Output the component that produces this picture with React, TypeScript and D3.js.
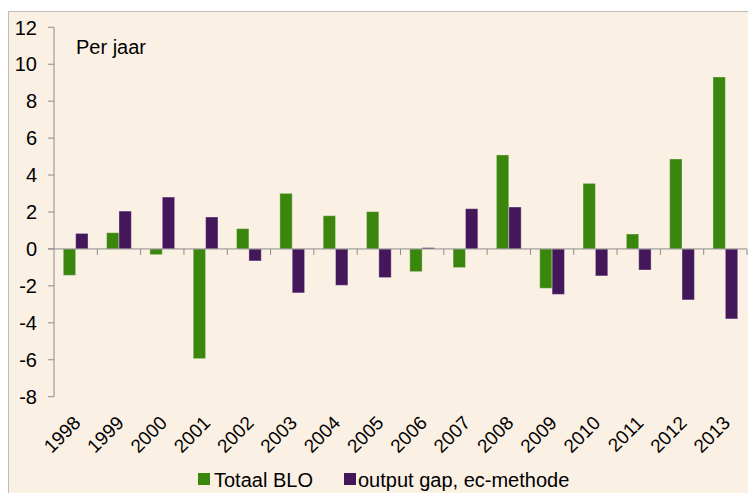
import React from "react";
import * as d3 from "d3";

const years = ["1998", "1999", "2000", "2001", "2002", "2003", "2004", "2005",
  "2006", "2007", "2008", "2009", "2010", "2011", "2012", "2013"];
const totaalBLO = [-1.43, 0.88, -0.31, -5.94, 1.1, 3.01, 1.8, 2.02,
  -1.23, -1.01, 5.09, -2.13, 3.55, 0.81, 4.87, 9.31];
const outputGap = [0.84, 2.05, 2.81, 1.73, -0.65, -2.38, -1.97, -1.55,
  0.07, 2.18, 2.27, -2.46, -1.46, -1.14, -2.76, -3.79];
const yTicks = [-8, -6, -4, -2, 0, 2, 4, 6, 8, 10, 12];
const seriesNames = ["Totaal BLO", "output gap, ec-methode"];

const GREEN = "#3b860d";
const PURPLE = "#44165a";
const FONT = "Liberation Sans, Arial, sans-serif";

const App = () => {
  const width = 748;
  const height = 493;
  const left = 54;
  const right = 747;
  const top = 27.3;
  const bottom = 396.7;

  const x = d3.scaleBand().domain(years).range([left, right]);
  // Excel-style: gap width 150% of a bar
  const barW = x.bandwidth() / 3.5;
  const y = d3.scaleLinear().domain([-8, 12]).range([bottom, top]);
  const y0 = y(0);

  const series = [
    { name: seriesNames[0], values: totaalBLO, color: GREEN },
    { name: seriesNames[1], values: outputGap, color: PURPLE },
  ];

  return (
    <svg width={width} height={height} style={{ position: "absolute", left: 0, top: 0 }}>
      <rect x={8.5} y={11.5} width={width} height={height} fill="#fbf0e4" stroke="#c0bcb6" />
      <text x={76} y={54} fontFamily={FONT} fontSize={20} fill="#000">Per jaar</text>

      {/* y axis */}
      <line x1={left} x2={left} y1={top} y2={bottom} stroke="#8c8c8c" />
      {yTicks.map((t) => (
        <g key={t}>
          <line x1={left - 6} x2={left} y1={y(t)} y2={y(t)} stroke="#8c8c8c" />
          <text x={37} y={y(t)} dy="0.36em" textAnchor="end" fontFamily={FONT} fontSize={20} fill="#000">
            {t}
          </text>
        </g>
      ))}

      {/* bars */}
      {series.map((s, si) =>
        s.values.map((v, i) => {
          const bx = (x(years[i]) as number) + x.bandwidth() * (0.75 / 3.5) + si * barW;
          return (
            <rect
              key={s.name + i}
              x={bx}
              y={Math.min(y(v), y0)}
              width={barW}
              height={Math.abs(y(v) - y0)}
              fill={s.color}
              stroke="rgba(255,255,255,0.35)"
              strokeWidth={1}
            />
          );
        })
      )}

      {/* x axis */}
      <line x1={left - 6} x2={right} y1={y0} y2={y0} stroke="#8c8c8c" />
      {years.map((yr) => (
        <line
          key={"t" + yr}
          x1={(x(yr) as number) + x.bandwidth()}
          x2={(x(yr) as number) + x.bandwidth()}
          y1={y0}
          y2={y0 + 6}
          stroke="#8c8c8c"
        />
      ))}
      {years.map((yr) => {
        const cx = (x(yr) as number) + x.bandwidth() / 2;
        return (
          <text
            key={"l" + yr}
            transform={`translate(${cx + 6},${424}) rotate(-45)`}
            textAnchor="end"
            fontFamily={FONT}
            fontSize={19}
            fill="#000"
          >
            {yr}
          </text>
        );
      })}

      {/* legend */}
      <rect x={198} y={473} width={12} height={12} fill={GREEN} />
      <text x={214} y={487} fontFamily={FONT} fontSize={20} fill="#000">{seriesNames[0]}</text>
      <rect x={344} y={473} width={12} height={12} fill={PURPLE} />
      <text x={358} y={487} fontFamily={FONT} fontSize={20} fill="#000">{seriesNames[1]}</text>
    </svg>
  );
};

export default App;
